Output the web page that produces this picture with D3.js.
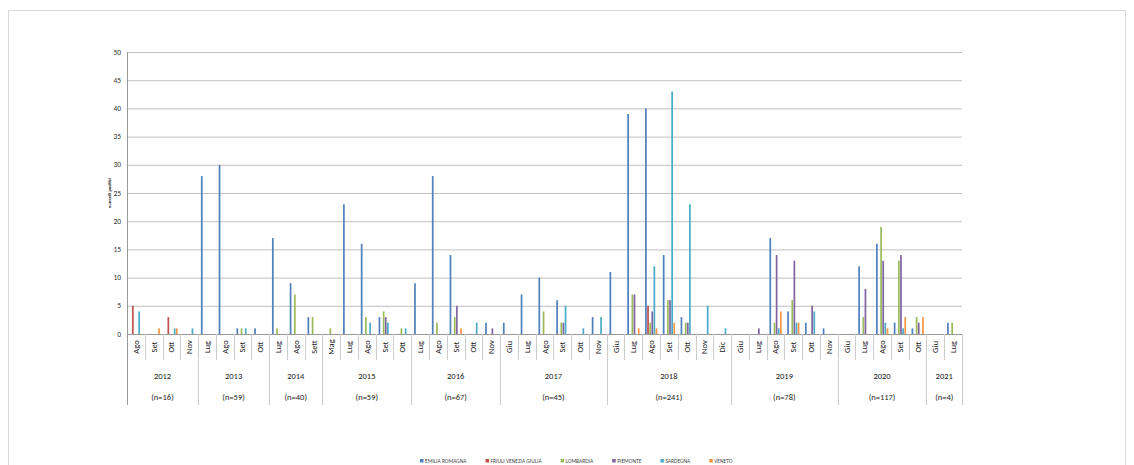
<!DOCTYPE html>
<html><head><meta charset="utf-8">
<script src="https://cdn.jsdelivr.net/npm/d3@7"></script>
<style>body{margin:0;background:#fff;font-family:Calibri,"Liberation Sans",Arial,sans-serif;}</style>
</head><body><svg id="chart" width="1134" height="465"></svg>
<script>
// year groups with months and n
var years = ["2012","2013","2014","2015","2016","2017","2018","2019","2020","2021"];
var yearN = ["(n=16)","(n=59)","(n=40)","(n=59)","(n=67)","(n=45)","(n=241)","(n=78)","(n=117)","(n=4)"];
var yearMonths = [
  ["Ago","Set","Ott","Nov"],
  ["Lug","Ago","Set","Ott"],
  ["Lug","Ago","Sett"],
  ["Mag","Lug","Ago","Set","Ott"],
  ["Lug","Ago","Set","Ott","Nov"],
  ["Giu","Lug","Ago","Set","Ott","Nov"],
  ["Giu","Lug","Ago","Set","Ott","Nov","Dic"],
  ["Giu","Lug","Ago","Set","Ott","Nov"],
  ["Giu","Lug","Ago","Set","Ott"],
  ["Giu","Lug"]
];
var series = ["EMILIA ROMAGNA","FRIULI VENEZIA GIULIA","LOMBARDIA","PIEMONTE","SARDEGNA","VENETO"];
var colors = ["#4F81BD","#C0504D","#9BBB59","#8064A2","#4BACC6","#F79646"];
// one row per month (flattened in order), columns = series
var values = [
  [0,5,0,0,4,0],[0,0,0,0,0,1],[0,3,0,0,1,1],[0,0,0,0,1,0],
  [28,0,0,0,0,0],[30,0,0,0,0,0],[1,0,1,0,1,0],[1,0,0,0,0,0],
  [17,0,1,0,0,0],[9,0,7,0,0,0],[3,0,3,0,0,0],
  [0,0,1,0,0,0],[23,0,0,0,0,0],[16,0,3,0,2,0],[3,0,4,3,2,0],[0,0,1,0,1,0],
  [9,0,0,0,0,0],[28,0,2,0,0,0],[14,0,3,5,0,1],[0,0,0,0,2,0],[2,0,0,1,0,0],
  [2,0,0,0,0,0],[7,0,0,0,0,0],[10,0,4,0,0,0],[6,0,2,2,5,0],[0,0,0,0,1,0],[3,0,0,0,3,0],
  [11,0,0,0,0,0],[39,0,7,7,0,1],[40,5,2,4,12,1],[14,0,6,6,43,2],[3,0,2,2,23,0],[0,0,0,0,5,0],[0,0,0,0,1,0],
  [0,0,0,0,0,0],[0,0,0,1,0,0],[17,0,2,14,1,4],[4,0,6,13,2,2],[2,0,0,5,4,0],[1,0,0,0,0,0],
  [0,0,0,0,0,0],[12,0,3,8,0,0],[16,0,19,13,2,1],[2,0,13,14,1,3],[1,0,3,2,0,3],
  [0,0,0,0,0,0],[2,0,2,0,0,0]
];
var yTicks = [0,5,10,15,20,25,30,35,40,45,50];

var svg = d3.select("#chart");
var L = 127, R = 962, T = 52, B = 334;

// outer frame
svg.append("rect").attr("x",8.5).attr("y",10.5).attr("width",1117).attr("height",460)
  .attr("fill","none").attr("stroke","#d9d9d9");

var cats = [], yearIdx = [];
yearMonths.forEach(function(ms, yi){ ms.forEach(function(m, mi){ cats.push(yi+"_"+mi); yearIdx.push(yi); }); });

var x = d3.scaleBand().domain(cats).range([L, R]);
var x1 = d3.scaleBand().domain(series).range([0, x.bandwidth()]).paddingOuter(1.2);
var y = d3.scaleLinear().domain([0,50]).range([B, T]);

// gridlines
svg.append("g").selectAll("line").data(yTicks.slice(1)).enter().append("line")
  .attr("x1",L).attr("x2",R).attr("y1",function(d){return y(d)+0.5;}).attr("y2",function(d){return y(d)+0.5;})
  .attr("stroke","#bfbfbf").attr("stroke-width",1);
svg.append("g").selectAll("text").data(yTicks).enter().append("text")
  .attr("x",L-6).attr("y",function(d){return y(d)+2.5;}).attr("text-anchor","end")
  .attr("font-size",7.5).attr("fill","#333").text(function(d){return d;});

svg.append("text").attr("transform","translate(111,"+((T+B)/2)+") rotate(-90)")
  .attr("text-anchor","middle").attr("font-size",4.5).attr("font-weight","bold").text("n.uccelli positivi");

// bars
var groups = svg.append("g").selectAll("g").data(values).enter().append("g")
  .attr("transform",function(d,i){return "translate("+x(cats[i])+",0)";});
groups.selectAll("rect").data(function(d){return d.map(function(v,j){return {k:series[j],v:v,c:colors[j]};});})
  .enter().append("rect")
  .attr("x",function(d){return x1(d.k)+0.3;}).attr("width",x1.bandwidth()-0.4)
  .attr("y",function(d){return y(d.v);}).attr("height",function(d){return B-y(d.v);})
  .attr("fill",function(d){return d.c;});

// axis lines
svg.append("line").attr("x1",L).attr("x2",R).attr("y1",B+0.5).attr("y2",B+0.5).attr("stroke","#999");
svg.append("line").attr("x1",L+0.5).attr("x2",L+0.5).attr("y1",T).attr("y2",405).attr("stroke","#999");

// month labels and separators
cats.forEach(function(c, i){
  var xc = x(c) + x.bandwidth()/2;
  var mi = +c.split("_")[1];
  svg.append("text").attr("transform","translate("+(xc+3)+",347) rotate(-90)")
    .attr("text-anchor","middle").attr("font-size",8.5).attr("fill","#222")
    .text(yearMonths[yearIdx[i]][mi]);
  var xr = x(c) + x.bandwidth();
  var last = (i == cats.length-1) || yearIdx[i+1] != yearIdx[i];
  svg.append("line").attr("x1",Math.round(xr)+0.5).attr("x2",Math.round(xr)+0.5)
    .attr("y1",B).attr("y2", last ? 405 : 360).attr("stroke","#ccc");
});

// year labels
years.forEach(function(yr, yi){
  var idx = cats.filter(function(c,i){return yearIdx[i]==yi;});
  var xm = (x(idx[0]) + x(idx[idx.length-1]) + x.bandwidth())/2;
  svg.append("text").attr("x",xm).attr("y",379).attr("text-anchor","middle").attr("font-size",8.5).attr("fill","#222").text(yr);
  svg.append("text").attr("x",xm).attr("y",400).attr("text-anchor","middle").attr("font-size",8.5).attr("fill","#222").text(yearN[yi]);
});

// legend, laid out by measured text widths
var lx = 420;
series.forEach(function(s, i){
  svg.append("rect").attr("x",lx).attr("y",459).attr("width",3.5).attr("height",3.5).attr("fill",colors[i]);
  var t = svg.append("text").attr("x",lx+5).attr("y",462.5).attr("font-size",5.5).attr("fill","#444").text(s);
  lx += 5 + t.node().getComputedTextLength() + 19;
});
</script></body></html>
